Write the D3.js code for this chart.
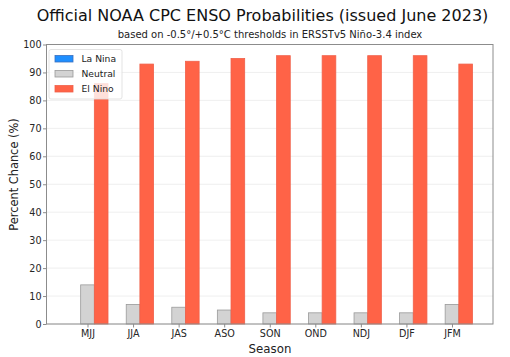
<!DOCTYPE html>
<html><head><meta charset="utf-8">
<script src="https://cdn.jsdelivr.net/npm/d3@7"></script>
<style>body{margin:0;background:#fff}svg{display:block}</style></head>
<body>
<svg id="c" width="510" height="357"></svg>
<script>
const seasons = ["MJJ","JJA","JAS","ASO","SON","OND","NDJ","DJF","JFM"];
const laNina  = [0,0,0,0,0,0,0,0,0];
const neutral = [14,7,6,5,4,4,4,4,7];
const elNino  = [86,93,94,95,96,96,96,96,93];
const yTicks  = [0,10,20,30,40,50,60,70,80,90,100];
const seriesNames = ["La Nina","Neutral","El Nino"];

const FONT = "DejaVu Sans";
const svg = d3.select("#c");
const L = 46.5, R = 493, T = 44.5, B = 324;
const x = d3.scaleLinear().domain([-0.9, 8.9]).range([L, R]);
const y = d3.scaleLinear().domain([0, 100]).range([B, T]);
const bw = 0.3;
const styles = [
  {fill:"#1f8fff", stroke:"#3a6fbf"},
  {fill:"#d3d3d3", stroke:"#9a9a9a"},
  {fill:"#ff6347", stroke:"#f0604a"}
];
const series = [laNina, neutral, elNino];

// grid
svg.append("g").selectAll("line").data(yTicks).join("line")
  .attr("x1", L).attr("x2", R).attr("y1", d=>y(d)).attr("y2", d=>y(d))
  .attr("stroke", "#ebebeb").attr("stroke-width", 0.8);

// bars
series.forEach((vals, k) => {
  svg.append("g").selectAll("rect").data(vals).join("rect")
    .attr("x", (d,i) => x(i + (k-1)*bw - bw/2))
    .attr("width", x(bw) - x(0))
    .attr("y", d => y(d))
    .attr("height", d => y(0) - y(d))
    .attr("fill", styles[k].fill)
    .attr("stroke", d => d > 0 ? styles[k].stroke : "none")
    .attr("stroke-width", 0.8);
});

// frame
svg.append("rect").attr("x", L).attr("y", T).attr("width", R-L).attr("height", B-T)
  .attr("fill", "none").attr("stroke", "#8c8c8c").attr("stroke-width", 1);

// axes
const xAxis = d3.axisBottom(x).tickValues(d3.range(seasons.length))
  .tickFormat(i => seasons[i]).tickSize(3.5).tickPadding(2.5);
const gx = svg.append("g").attr("transform", `translate(0,${B})`).call(xAxis);
const yAxis = d3.axisLeft(y).tickValues(yTicks).tickSize(3.5).tickPadding(1.5);
const gy = svg.append("g").attr("transform", `translate(${L},0)`).call(yAxis);
[gx, gy].forEach(g => {
  g.select(".domain").remove();
  g.selectAll(".tick line").attr("stroke", "#8c8c8c");
  g.selectAll(".tick text").attr("fill", "#262626").attr("font-family", FONT).attr("font-size", 9.6);
});

// titles
svg.append("text").attr("x", 262.5).attr("y", 20.5).attr("text-anchor", "middle")
  .attr("font-family", FONT).attr("font-size", 16).attr("fill", "#111")
  .text("Official NOAA CPC ENSO Probabilities (issued June 2023)");
svg.append("text").attr("x", 270).attr("y", 37.5).attr("text-anchor", "middle")
  .attr("font-family", FONT).attr("font-size", 10).attr("fill", "#222")
  .text("based on -0.5°/+0.5°C thresholds in ERSSTv5 Niño-3.4 index");
svg.append("text").attr("x", 270).attr("y", 352.5).attr("text-anchor", "middle")
  .attr("font-family", FONT).attr("font-size", 11.8).attr("fill", "#222").text("Season");
svg.append("text").attr("transform", "translate(17.5,174.5) rotate(-90)").attr("text-anchor", "middle")
  .attr("font-family", FONT).attr("font-size", 11.4).attr("fill", "#222").text("Percent Chance (%)");

// legend
const lg = svg.append("g").attr("transform", "translate(49,49.5)");
lg.append("rect").attr("width", 73).attr("height", 49.5).attr("rx", 2)
  .attr("fill", "rgba(255,255,255,0.8)").attr("stroke", "#dcdcdc").attr("stroke-width", 0.8);
seriesNames.forEach((n, k) => {
  const gy0 = 6 + k*15;
  lg.append("rect").attr("x", 6).attr("y", gy0).attr("width", 18).attr("height", 6.5)
    .attr("fill", styles[k].fill).attr("stroke", styles[k].stroke).attr("stroke-width", 0.8);
  lg.append("text").attr("x", 32.5).attr("y", gy0 + 6.8).attr("font-family", FONT)
    .attr("font-size", 9.2).attr("fill", "#222").text(n);
});
</script>
</body></html>
